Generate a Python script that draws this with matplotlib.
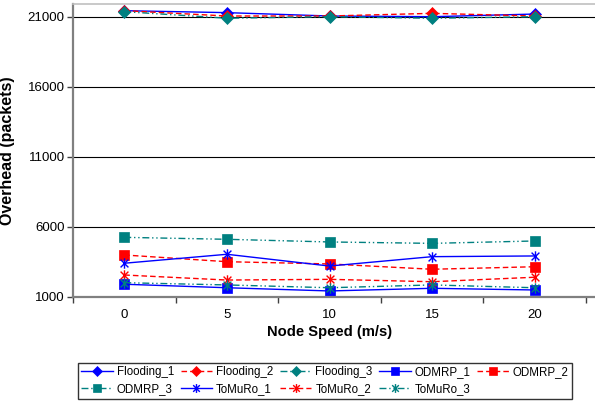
import matplotlib
matplotlib.use("Agg")
import matplotlib.pyplot as plt
from matplotlib.path import Path
from matplotlib.ticker import FixedLocator, NullFormatter

plt.rcParams['font.family'] = ['Liberation Sans', 'DejaVu Sans']

speeds = ["0", "5", "10", "15", "20"]
flooding_1 = [21430, 21290, 21050, 21000, 21190]
flooding_2 = [21430, 21050, 21050, 21240, 21050]
flooding_3 = [21360, 20890, 21000, 20890, 21000]
odmrp_1 = [1890, 1640, 1410, 1600, 1480]
odmrp_2 = [3980, 3500, 3340, 2960, 3140]
odmrp_3 = [5240, 5100, 4910, 4810, 4980]
tomuro_1 = [3390, 4030, 3190, 3860, 3910]
tomuro_2 = [2550, 2190, 2240, 2070, 2390]
tomuro_3 = [2000, 1840, 1640, 1840, 1640]
y_ticks = [1000, 6000, 11000, 16000, 21000]

blue = "#0000FF"
red = "#FF0000"
teal = "#008080"

star = Path([(0, -1), (0, 1), (-0.75, -0.75), (0.75, 0.75), (-0.75, 0.75), (0.75, -0.75)],
            [Path.MOVETO, Path.LINETO, Path.MOVETO, Path.LINETO, Path.MOVETO, Path.LINETO])

dash = (0, (4, 2.2))
dashdot = (0, (5, 2, 1, 2, 1, 2))

series = [
    ("Flooding_1", flooding_1, blue, "-", "D"),
    ("Flooding_2", flooding_2, red, dash, "D"),
    ("Flooding_3", flooding_3, teal, dashdot, "D"),
    ("ODMRP_1", odmrp_1, blue, "-", "s"),
    ("ODMRP_2", odmrp_2, red, dash, "s"),
    ("ODMRP_3", odmrp_3, teal, dashdot, "s"),
    ("ToMuRo_1", tomuro_1, blue, "-", star),
    ("ToMuRo_2", tomuro_2, red, dash, star),
    ("ToMuRo_3", tomuro_3, teal, dashdot, star),
]

fig = plt.figure(figsize=(5.95, 4.01), dpi=100)
W, H = 595, 401
left, right, top, bottom = 73, 600, 4, 296.7
ax = fig.add_axes([left / W, 1 - bottom / H, (right - left) / W, (bottom - top) / H])

cat_w = 102.6
x = list(range(len(speeds)))
handles = []
for name, vals, col, ls, mk in series:
    if mk == "D":
        ms, mew = 6.5, 0.5
    elif mk == "s":
        ms, mew = 6.5, 0.5
    else:
        ms, mew = 7.5, 1.0
    h, = ax.plot(x, vals, color=col, linestyle=ls, linewidth=1.0, marker=mk,
                 markersize=ms, markerfacecolor=col, markeredgecolor=col,
                 markeredgewidth=mew, label=name)
    handles.append(h)

ax.set_xlim(-0.5, -0.5 + (right - left) / cat_w)
ax.set_ylim(1000, 21000 + (16.7 - top) * 20000 / 280)

ax.set_yticks(y_ticks)
ax.set_yticklabels([str(v) for v in y_ticks])
ax.yaxis.grid(True, color="black", linewidth=0.8)
ax.set_axisbelow(True)

ax.set_xticks(x)
ax.set_xticklabels(speeds)
ax.xaxis.set_minor_locator(FixedLocator([i - 0.5 for i in range(len(speeds) + 1)]))
ax.xaxis.set_minor_formatter(NullFormatter())
ax.tick_params(axis="x", which="major", length=0, pad=9, labelsize=9.5)
ax.tick_params(axis="x", which="minor", length=4, width=1, color="#404040", direction="out")
ax.tick_params(axis="y", length=4, width=1, color="#404040", direction="out", labelsize=9.5, pad=2)

for s in ["left", "bottom"]:
    ax.spines[s].set_color("#808080")
    ax.spines[s].set_linewidth(1.6)
ax.spines["top"].set_color("#C0C0C0")
ax.spines["top"].set_linewidth(1.2)
ax.spines["right"].set_visible(False)

ax.set_ylabel("Overhead (packets)", fontsize=11.5, fontweight="bold")
ax.yaxis.set_label_coords((15 - left) / (right - left), 0.5)
ax.set_xlabel("Node Speed (m/s)", fontsize=10.6, fontweight="bold")
ax.xaxis.set_label_coords((330 - left) / (right - left), -(332 - bottom) / (bottom - top))
ax.xaxis.label.set_va("center")

order = [0, 5, 1, 6, 2, 7, 3, 8, 4]
leg = fig.legend([handles[i] for i in order], [series[i][0] for i in order],
                 loc="upper left", bbox_to_anchor=(78 / W, 1 - 363 / H),
                 ncol=5, fontsize=8.3, frameon=True, fancybox=False,
                 edgecolor="black", handlelength=2.7, handletextpad=0.35,
                 columnspacing=0.6, borderpad=0.3, labelspacing=0.4,
                 borderaxespad=0, markerscale=0.85)
leg.get_frame().set_linewidth(1.0)

fig.savefig("out.png", dpi=100)
